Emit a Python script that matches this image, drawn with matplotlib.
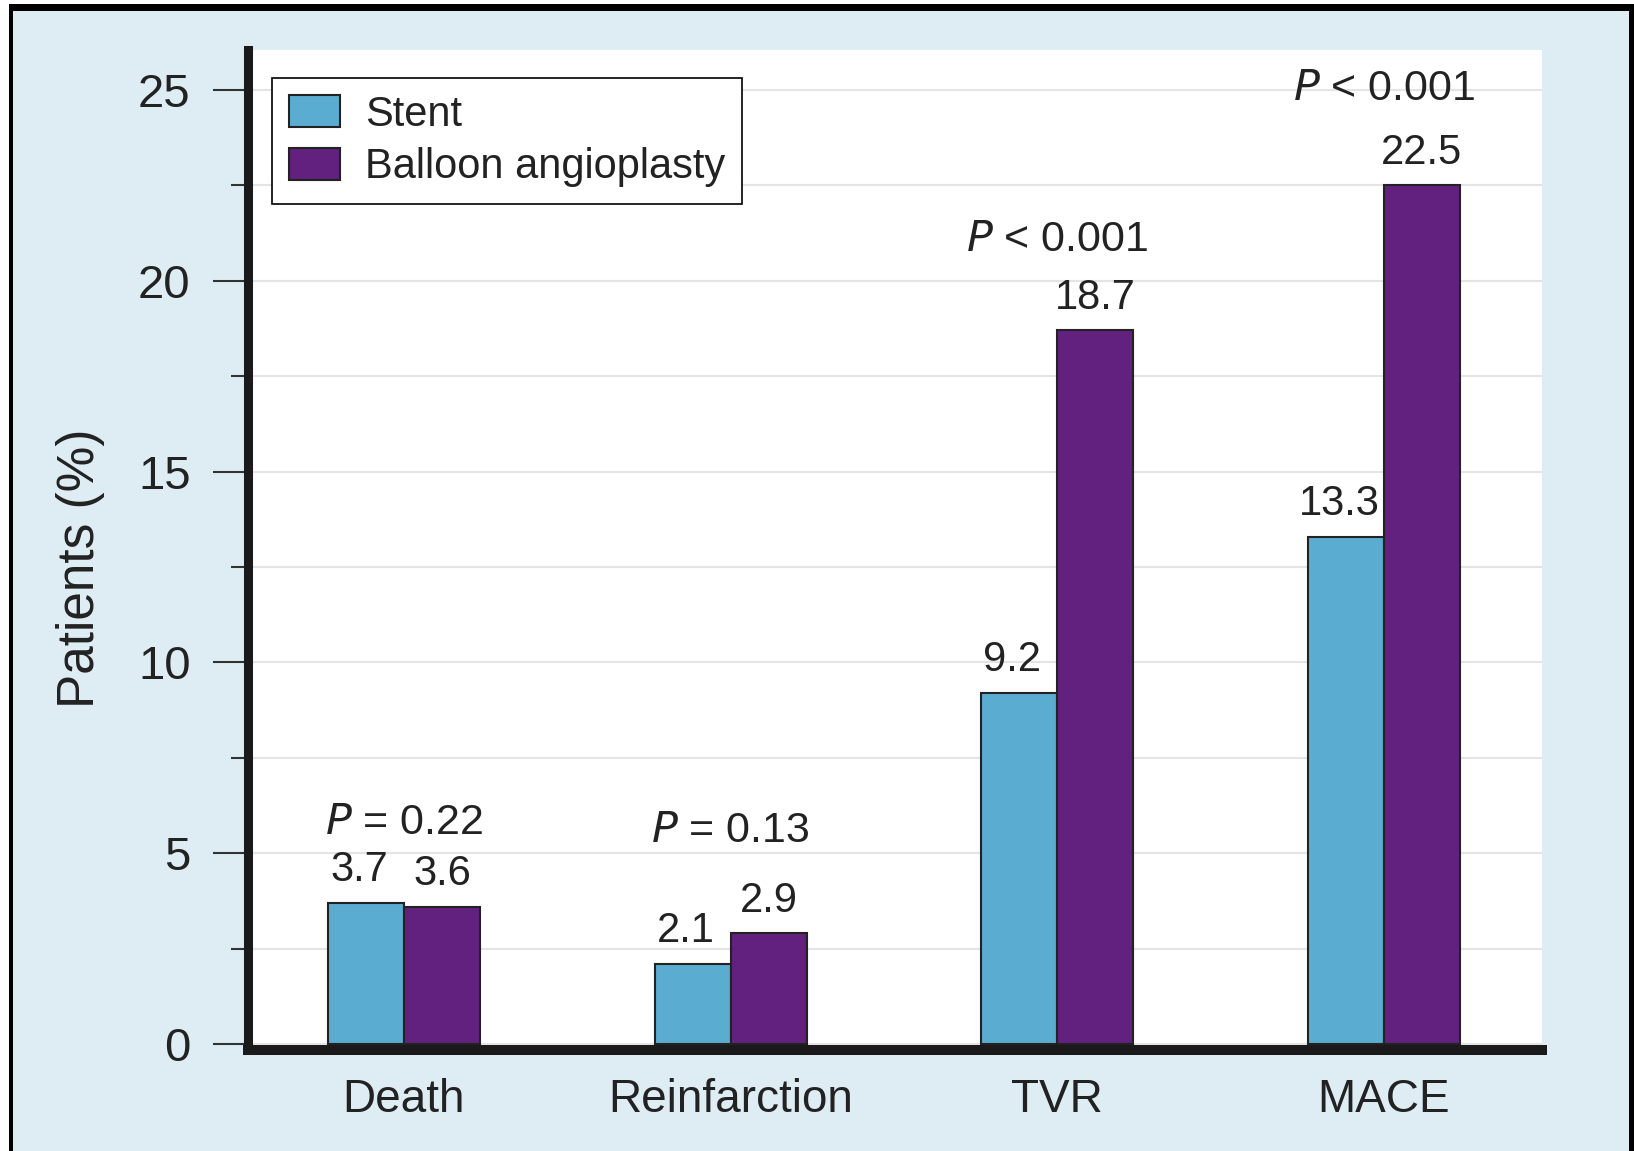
import matplotlib
matplotlib.use("Agg")
import matplotlib.pyplot as plt
import numpy as np
from matplotlib.patches import Rectangle
from matplotlib.ticker import MultipleLocator

plt.rcParams['font.family'] = ['Liberation Sans', 'DejaVu Sans']

# Outcome data (% of patients)
categories = ["Death", "Reinfarction", "TVR", "MACE"]
stent = [3.7, 2.1, 9.2, 13.3]
balloon = [3.6, 2.9, 18.7, 22.5]
p_labels = ["= 0.22", "= 0.13", "< 0.001", "< 0.001"]
p_heights = [5.79, 5.59, 21.08, 25.04]
series_names = ["Stent", "Balloon angioplasty"]

STENT_COLOR = "#5aacd1"
BALLOON_COLOR = "#63217f"
BG_COLOR = "#deedf4"
TEXT_COLOR = "#222222"

W, H = 1634, 1151
fig = plt.figure(figsize=(W / 100, H / 100), dpi=100, facecolor="white")

# Framed light-blue panel
fig.add_artist(Rectangle((9 / W, 0), (W - 9) / W, (H - 4) / H,
                         transform=fig.transFigure, facecolor="black",
                         edgecolor="none", zorder=-10))
fig.add_artist(Rectangle((13 / W, 0), (1629 - 13) / W, (H - 11) / H,
                         transform=fig.transFigure, facecolor=BG_COLOR,
                         edgecolor="none", zorder=-9))

ax = fig.add_axes([247.5 / W, 101 / H, (1542 - 247.5) / W, 1000 / H])
ax.set_facecolor("white")

x = np.arange(len(categories))
bw = 0.233
bars_s = ax.bar(x - bw / 2, stent, bw, color=STENT_COLOR, edgecolor="#222222",
                linewidth=1.5, label=series_names[0], zorder=3)
bars_b = ax.bar(x + bw / 2, balloon, bw, color=BALLOON_COLOR, edgecolor="#222222",
                linewidth=1.5, label=series_names[1], zorder=3)

# Value labels above each bar (stent labels nudged left, clear of the neighbour)
for bars, vals, dx in ((bars_s, stent, -5), (bars_b, balloon, 0)):
    for b, v in zip(bars, vals):
        ax.annotate(f"{v:.1f}", (b.get_x() + b.get_width() / 2, v),
                    xytext=(dx, 9), textcoords="offset points",
                    ha="center", va="bottom", fontsize=30, color=TEXT_COLOR,
                    zorder=5)

# P values for each comparison
for xi, lab, h in zip(x, p_labels, p_heights):
    ax.text(xi, h, r"$\mathit{P}$ " + lab, ha="center", va="center",
            fontsize=31, color=TEXT_COLOR, zorder=5)

ax.set_xlim(-0.479, 3.484)
ax.set_ylim(-0.157, 26.05)

ax.yaxis.set_major_locator(MultipleLocator(5))
ax.yaxis.set_minor_locator(MultipleLocator(2.5))
ax.yaxis.grid(True, which="both", color="#e4e4e4", linewidth=1.5)
ax.set_axisbelow(True)

ax.tick_params(axis="y", which="major", direction="out", length=25, width=1.5,
               color="#333333", labelsize=34, labelcolor=TEXT_COLOR, pad=16)
ax.tick_params(axis="y", which="minor", direction="out", length=12, width=1.5,
               color="#333333")
ax.set_xticks(x)
ax.set_xticklabels(categories)
ax.tick_params(axis="x", length=0, labelsize=33, labelcolor=TEXT_COLOR, pad=20)

for side in ("top", "right"):
    ax.spines[side].set_visible(False)
ax.spines["left"].set_linewidth(6.5)
ax.spines["bottom"].set_linewidth(7.2)
ax.spines["left"].set_color("#1a1a1a")
ax.spines["bottom"].set_color("#1a1a1a")

ax.set_ylabel("Patients (%)", fontsize=37, color=TEXT_COLOR)
ax.yaxis.set_label_coords(-0.129, 0.482)
ax.yaxis.label.set_va("center")

leg = ax.legend(loc="upper left", bbox_to_anchor=(0.019, 0.972), borderaxespad=0,
                frameon=True, fancybox=False, edgecolor="black", framealpha=1,
                fontsize=30, handlelength=1.22, handleheight=0.8,
                handletextpad=0.6, borderpad=0.4, labelspacing=0.3)
leg.get_frame().set_linewidth(1.2)
for t in leg.get_texts():
    t.set_color(TEXT_COLOR)

fig.savefig("out.png", dpi=100, facecolor=fig.get_facecolor())
